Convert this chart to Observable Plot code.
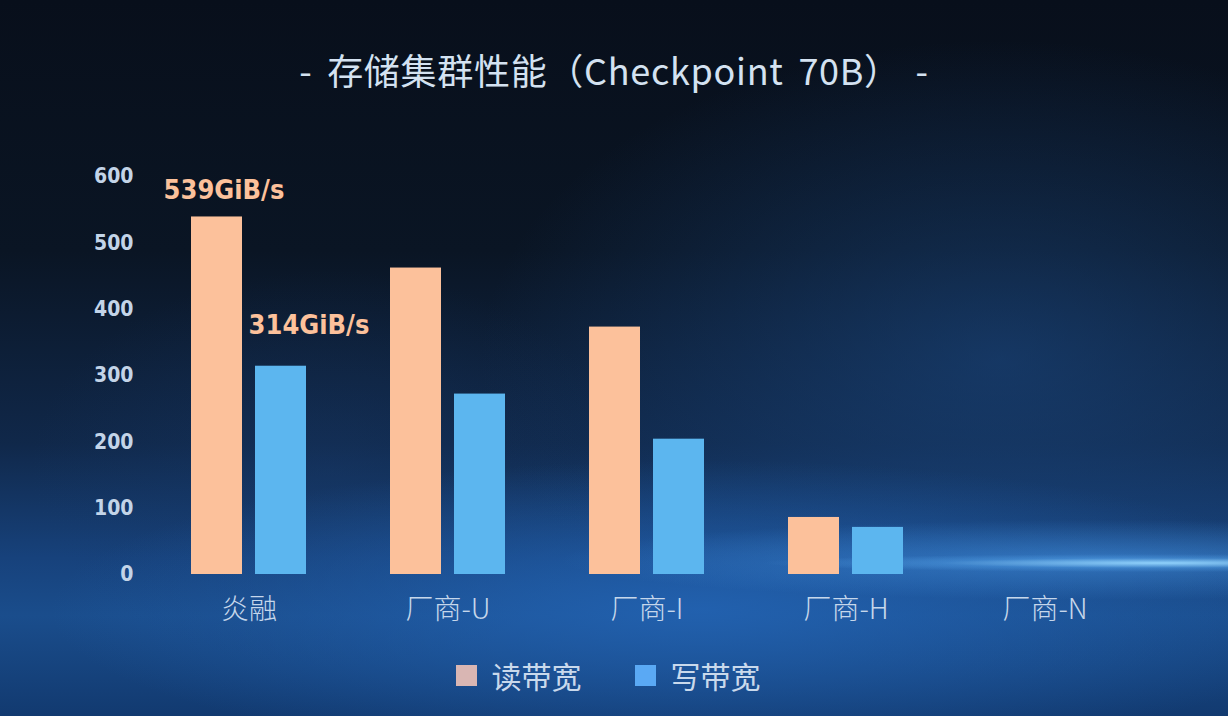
<!DOCTYPE html>
<html>
<head>
<meta charset="utf-8">
<script src="https://cdn.jsdelivr.net/npm/d3@7"></script>
<script src="https://cdn.jsdelivr.net/npm/@observablehq/plot@0.6"></script>
<style>
  html, body { margin: 0; padding: 0; }
  body {
    width: 1228px; height: 716px; overflow: hidden;
    font-family: "Noto Sans CJK SC", "Noto Sans", sans-serif;
    background:
      radial-gradient(ellipse 400px 9px at 1160px 563px, rgba(150,215,255,0.95), rgba(90,170,240,0.35) 55%, rgba(60,130,220,0) 100%),
      radial-gradient(ellipse 540px 40px at 1100px 560px, rgba(70,150,230,0.55), rgba(40,110,200,0) 100%),
      radial-gradient(ellipse 650px 150px at 700px 610px, rgba(35,100,180,0.85), rgba(25,80,150,0) 100%),
      radial-gradient(ellipse 520px 320px at 1000px 360px, rgba(28,75,135,0.55), rgba(20,60,110,0) 100%),
      radial-gradient(ellipse 300px 200px at 330px 470px, rgba(25,60,110,0.35), rgba(20,50,100,0) 100%),
      linear-gradient(to bottom, #080f1b 0%, #0a1524 35%, #10284a 62%, #17427c 78%, #1a4d8c 86%, #123a70 100%);
  }
  #title {
    box-sizing: border-box; padding-top: 52px;
    text-align: center; font-size: 36px; line-height: 44px;
    color: #d4e2f1; font-weight: 400; letter-spacing: 0.7px; word-spacing: 6px;
    margin-top: -5px; height: 105px;
  }
  #chart { height: 540px; }
  #chart svg { display: block; background: transparent; }
  #legend {
    height: 76px; box-sizing: border-box; padding-top: 0px; padding-right: 12px;
    display: flex; justify-content: center; align-items: center;
    margin-top: -3px;
  }
  .item { display: flex; align-items: center; height: 40px; font-size: 30px; color: #c9d9ec; }
  .item + .item { margin-left: 53px; }
  .sw { width: 21px; height: 21px; margin-right: 15px; }
</style>
</head>
<body>
<div id="title">- 存储集群性能（Checkpoint 70B） -</div>
<div id="chart"></div>
<div id="legend"></div>
<script>
const categories = ["炎融", "厂商-U", "厂商-I", "厂商-H", "厂商-N"];
const readBW = [539, 462, 373, 86, 0];
const writeBW = [314, 272, 204, 71, 0];
const seriesNames = ["读带宽", "写带宽"];
const yTicks = [0, 100, 200, 300, 400, 500, 600];
const annotations = [
  {cat: "炎融", series: "读带宽", value: 539, label: "539GiB/s"},
  {cat: "炎融", series: "写带宽", value: 314, label: "314GiB/s"}
];

const barColors = ["#fcc19b", "#5cb6ef"];
const legendColors = ["#d9b6b3", "#5aa9f4"];

const rows = [];
categories.forEach((c, i) => {
  rows.push({cat: c, series: seriesNames[0], value: readBW[i]});
  rows.push({cat: c, series: seriesNames[1], value: writeBW[i]});
});

const readRows = rows.filter(d => d.series === seriesNames[0]);
const writeRows = rows.filter(d => d.series === seriesNames[1]);

const numFont = "'DejaVu Sans Condensed', 'DejaVu Sans', sans-serif";

const plot = Plot.plot({
  width: 1228,
  height: 540,
  marginTop: 76,
  marginBottom: 66,
  marginLeft: 131,
  marginRight: 66,
  style: {background: "transparent", overflow: "visible"},
  x: {domain: categories, paddingInner: 0.422, paddingOuter: 0.3, axis: null},
  y: {domain: [0, 600], axis: null},
  color: {domain: seriesNames, range: barColors},
  marks: [
    Plot.barY(readRows, {x: "cat", y: "value", fill: "series", insetRight: 64}),
    Plot.barY(writeRows, {x: "cat", y: "value", fill: "series", insetLeft: 64}),
    Plot.axisY({
      ticks: yTicks, tickSize: 0, tickPadding: 0, dx: 2,
      fontSize: 21, fontWeight: "bold", fontFamily: numFont,
      fill: "#c3d4e8", label: null
    }),
    Plot.axisX({
      tickSize: 0, tickPadding: 25,
      fontSize: 28, fontWeight: 300,
      fontFamily: "'Noto Sans CJK SC', sans-serif",
      fill: "#c6d7eb", label: null
    }),
    Plot.text(annotations.filter(d => d.series === seriesNames[0]), {
      x: "cat", y: "value", text: "label", dx: -25, dy: -27,
      fontSize: 27, fontWeight: "bold", fontFamily: numFont, fill: "#fcc19b"
    }),
    Plot.text(annotations.filter(d => d.series === seriesNames[1]), {
      x: "cat", y: "value", text: "label", dx: 60, dy: -41,
      fontSize: 27, fontWeight: "bold", fontFamily: numFont, fill: "#fcc19b"
    })
  ]
});
document.getElementById("chart").appendChild(plot);

const legend = d3.select("#legend");
seriesNames.forEach((name, i) => {
  const item = legend.append("div").attr("class", "item");
  item.append("div").attr("class", "sw").style("background", legendColors[i]);
  item.append("span").text(name);
});
</script>
</body>
</html>
